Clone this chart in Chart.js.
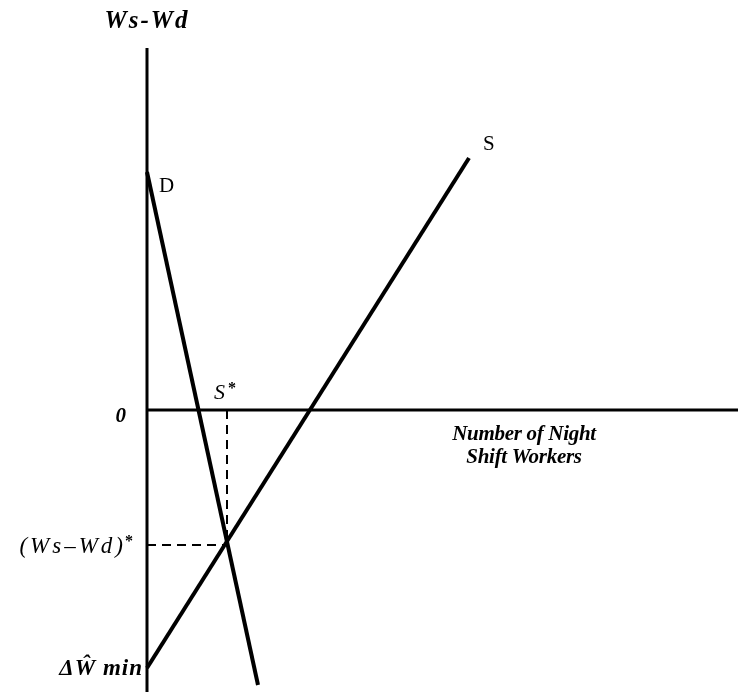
<!DOCTYPE html>
<html>
<head>
<meta charset="utf-8">
<script src="https://cdn.jsdelivr.net/npm/chart.js@4"></script>
<style>
  body { margin: 0; background: #fff; }
</style>
</head>
<body>
<canvas id="nightChart" width="738" height="692"></canvas>
<script>
// demand and supply lines for night shift workers
var demandX = [0, 11.1];
var demandY = [23.8, -27.5];
var supplyX = [0, 32.2];
var supplyY = [-25.8, 25.2];
// equilibrium point
var eqX = 8.0;
var eqY = -13.5;
// axis extents
var xMax = 59.1;
var yMin = -28.2;
var yMax = 36.2;

function pts(xs, ys) {
    return xs.map(function (x, i) { return { x: x, y: ys[i] }; });
}

var serif = '"Liberation Serif", "Times New Roman", serif';

var labelsPlugin = {
    id: 'labels',
    afterDatasetsDraw: function (chart) {
        var c = chart.ctx;
        var sx = chart.scales.x, sy = chart.scales.y;
        var x0 = sx.getPixelForValue(0), y0 = sy.getPixelForValue(0);
        c.save();
        c.fillStyle = '#000';
        c.textBaseline = 'alphabetic';

        c.font = 'bold italic 25px ' + serif;
        c.textAlign = 'center';
        c.letterSpacing = '2px';
        c.fillText('Ws-Wd', x0, 28);

        c.letterSpacing = '0px';
        c.font = '21px ' + serif;
        c.textAlign = 'left';
        c.fillText('D', sx.getPixelForValue(demandX[0]) + 12, sy.getPixelForValue(demandY[0]) + 20);
        c.fillText('S', sx.getPixelForValue(supplyX[1]) + 14, sy.getPixelForValue(supplyY[1]) - 8);

        c.font = 'italic 22px ' + serif;
        c.fillText('S', sx.getPixelForValue(eqX) - 13, y0 - 11);
        c.font = 'bold 16px ' + serif;
        c.fillText('*', sx.getPixelForValue(eqX) + 1, y0 - 17);

        c.font = 'bold italic 21px ' + serif;
        c.textAlign = 'right';
        c.fillText('0', x0 - 21, y0 + 12);

        c.font = 'italic 23px ' + serif;
        c.letterSpacing = '3px';
        c.fillText('(Ws\u2013Wd)', x0 - 21, sy.getPixelForValue(eqY) + 8);
        c.letterSpacing = '0px';
        c.font = 'bold 16px ' + serif;
        c.fillText('*', x0 - 14, sy.getPixelForValue(eqY) + 1);

        c.font = 'bold italic 23px ' + serif;
        c.letterSpacing = '1px';
        c.fillText('\u0394\u0174 min', x0 - 4, sy.getPixelForValue(supplyY[0]) + 7);

        c.font = 'bold italic 21px ' + serif;
        c.textAlign = 'center';
        c.letterSpacing = '-0.3px';
        c.fillText('Number of Night', 524, 440);
        c.fillText('Shift Workers', 524, 463);
        c.restore();
    }
};

var ctx = document.getElementById('nightChart').getContext('2d');
var nightChart = new Chart(ctx, {
    type: 'scatter',
    data: {
        datasets: [{
            label: 'vertical axis',
            data: pts([0, 0], [yMin, yMax]),
            borderColor: '#000',
            borderWidth: 3
        }, {
            label: 'horizontal axis',
            data: pts([0, xMax], [0, 0]),
            borderColor: '#000',
            borderWidth: 3
        }, {
            label: 'D',
            data: pts(demandX, demandY),
            borderColor: '#000',
            borderWidth: 4
        }, {
            label: 'S',
            data: pts(supplyX, supplyY),
            borderColor: '#000',
            borderWidth: 4
        }, {
            label: 'eq horizontal',
            data: pts([0, eqX], [eqY, eqY]),
            borderColor: '#000',
            borderWidth: 2,
            borderDash: [9, 6]
        }, {
            label: 'eq vertical',
            data: pts([eqX, eqX], [0, eqY]),
            borderColor: '#000',
            borderWidth: 2,
            borderDash: [9, 6]
        }]
    },
    options: {
        responsive: false,
        animation: false,
        showLine: true,
        pointRadius: 0,
        clip: false,
        layout: { padding: { left: 147, top: 48, right: 0, bottom: 0 } },
        plugins: {
            legend: { display: false },
            tooltip: { enabled: false }
        },
        scales: {
            x: { type: 'linear', min: 0, max: xMax, display: false },
            y: { type: 'linear', min: yMin, max: yMax, display: false }
        }
    },
    plugins: [labelsPlugin]
});
</script>
</body>
</html>
